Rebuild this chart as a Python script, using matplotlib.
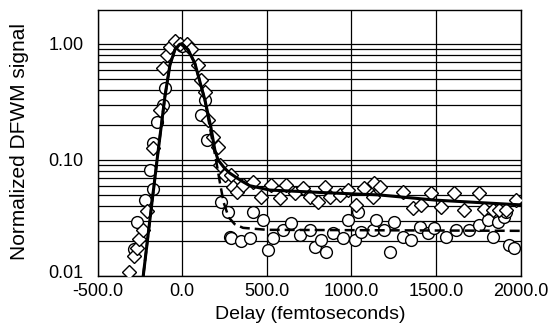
import matplotlib
matplotlib.use("Agg")
import matplotlib.pyplot as plt
from matplotlib.transforms import ScaledTranslation
import numpy as np

plt.rcParams['font.family'] = ['Liberation Sans', 'DejaVu Sans']

# open diamonds
dia_x = [-312, -283, -269, -253, -230, -210, -171, -131, -112, -92, -72, -43, -14, 26, 55,
         91, 114, 134, 153, 183, 212, 222, 252, 291, 301, 321, 360, 419, 468, 527, 576,
         616, 665, 713, 753, 802, 841, 871, 930, 979, 1028, 1077, 1126, 1136, 1166, 1303,
         1362, 1412, 1471, 1530, 1608, 1667, 1756, 1785, 1834, 1873, 1913, 1972]
dia_y = [0.0109, 0.0149, 0.0173, 0.0207, 0.0249, 0.0366, 0.126, 0.27, 0.617, 0.80, 0.947,
         1.05, 1.0, 1.0, 0.9, 0.66, 0.49, 0.388, 0.221, 0.159, 0.130, 0.0906, 0.0743,
         0.074, 0.0589, 0.053, 0.061, 0.065, 0.048, 0.061, 0.0468, 0.061, 0.052, 0.057,
         0.0484, 0.0437, 0.059, 0.048, 0.0499, 0.055, 0.041, 0.057, 0.048, 0.063, 0.059,
         0.053, 0.0383, 0.041, 0.052, 0.0395, 0.052, 0.0371, 0.052, 0.038, 0.037, 0.037,
         0.037, 0.045]

# open circles
cir_x = [-283, -265, -220, -190, -171, -171, -151, -112, -102, 0, 114, 134, 144, 232, 271,
         281, 291, 350, 399, 419, 478, 507, 537, 596, 645, 694, 753, 782, 822, 851, 891,
         950, 979, 1019, 1038, 1058, 1127, 1146, 1195, 1225, 1254, 1303, 1353, 1402, 1451,
         1490, 1559, 1618, 1697, 1756, 1805, 1834, 1864, 1903, 1913, 1933, 1962]
cir_y = [0.017, 0.0294, 0.045, 0.082, 0.056, 0.139, 0.214, 0.298, 0.415, 0.95, 0.244,
         0.329, 0.149, 0.0437, 0.0358, 0.0218, 0.0211, 0.0200, 0.0211, 0.0358, 0.0304,
         0.0168, 0.0211, 0.0249, 0.0285, 0.0226, 0.0249, 0.0179, 0.0204, 0.0162, 0.0233,
         0.0211, 0.0304, 0.0204, 0.0358, 0.0241, 0.0249, 0.0304, 0.025, 0.0162, 0.029,
         0.0218, 0.0204, 0.0266, 0.0233, 0.0258, 0.0218, 0.0249, 0.0249, 0.0275, 0.0304,
         0.0218, 0.029, 0.0324, 0.0358, 0.0185, 0.0173]

# fit curves
fit_x = [-230, -190, -141, -102, -72, -43, -15, 0, 35, 75, 134, 170, 193, 212, 250, 281,
         311, 350, 399, 517, 871, 1166, 1500, 2000]
fit_y = [0.01, 0.031, 0.122, 0.35, 0.66, 0.89, 0.99, 1.0, 0.89, 0.68, 0.33, 0.19, 0.122,
         0.1, 0.085, 0.077, 0.072, 0.066, 0.060, 0.055, 0.052, 0.0499, 0.045, 0.041]

dash_x = [-230, -190, -141, -102, -72, -43, -15, 0, 35, 75, 134, 170, 200, 222, 245, 275,
          310, 360, 500, 2000]
dash_y = [0.01, 0.031, 0.122, 0.35, 0.66, 0.89, 0.99, 1.0, 0.89, 0.68, 0.33, 0.17, 0.1,
          0.065, 0.043, 0.032, 0.028, 0.026, 0.025, 0.0245]

fig = plt.figure(figsize=(5.54, 3.29), dpi=100)
ax = fig.add_axes([0.176, 0.161, 0.764, 0.809])

ax.plot(cir_x, cir_y, 'o', ms=8.5, mfc='white', mec='black', mew=1.0, zorder=3)
ax.plot(dia_x, dia_y, 'D', ms=7, mfc='white', mec='black', mew=1.0, zorder=4)
ax.plot(fit_x, fit_y, '-', color='black', lw=2.2, zorder=5)
ax.plot(dash_x, dash_y, '--', color='black', lw=1.8, dashes=(4, 2), zorder=5)

ax.set_yscale('log')
ax.set_xlim(-500, 2000)
ax.set_ylim(0.01, 1.96)
ax.set_xticks([-500, 0, 500, 1000, 1500, 2000])
ax.set_xticklabels(['-500.0', '0.0', '500.0', '1000.0', '1500.0', '2000.0'])
ax.set_yticks([0.01, 0.1, 1.0])
ax.set_yticklabels(['0.01', '0.10', '1.00'])
ax.yaxis.set_minor_formatter(matplotlib.ticker.NullFormatter())
ax.tick_params(which='both', length=0, labelsize=13)
ax.tick_params(axis='y', pad=10)
ax.tick_params(axis='x', pad=5)

# lift the bottom y label a little so it clears "-500.0"
lbl = ax.get_yticklabels()[0]
lbl.set_transform(lbl.get_transform() + ScaledTranslation(0, 3 / 72, fig.dpi_scale_trans))

ax.grid(True, which='both', axis='y', color='black', lw=0.9)
ax.grid(True, which='major', axis='x', color='black', lw=0.9)
for s in ax.spines.values():
    s.set_linewidth(1.0)

fig.text(310 / 554, 1 - 319 / 329, 'Delay (femtoseconds)', fontsize=14,
         ha='center', va='baseline')
fig.text(20 / 554, 1 - 141 / 329, 'Normalized DFWM signal', fontsize=15,
         rotation=90, ha='center', va='center')

fig.savefig('out.png', dpi=100)
